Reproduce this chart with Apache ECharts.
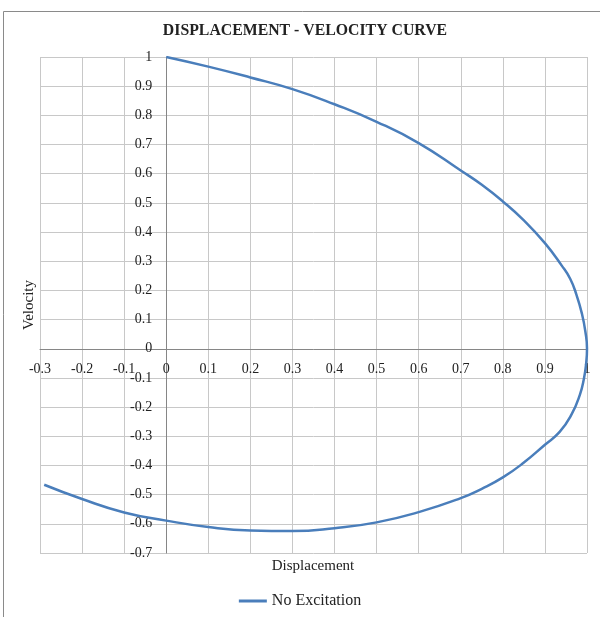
<!DOCTYPE html>
<html>
<head>
<meta charset="utf-8">
<script src="https://cdn.jsdelivr.net/npm/echarts@6/dist/echarts.min.js"></script>
<style>html,body{margin:0;padding:0;background:#fff;}#c{width:600px;height:617px;}</style>
</head>
<body>
<div id="c"></div>
<script>
const titleText = 'DISPLACEMENT - VELOCITY CURVE';
const xName = 'Displacement';
const yName = 'Velocity';
const seriesName = 'No Excitation';
const displacement = [0, 0.1, 0.2, 0.3, 0.4, 0.5, 0.6, 0.7, 0.75, 0.8, 0.85, 0.9, 0.94, 0.96, 0.975, 0.988, 0.996, 1.0, 0.998, 0.993, 0.983, 0.963, 0.935, 0.9, 0.85, 0.8, 0.75, 0.7, 0.6, 0.5, 0.4, 0.3, 0.2, 0.1, 0, -0.1, -0.2, -0.29];
const velocity = [1, 0.967, 0.93, 0.89, 0.838, 0.778, 0.705, 0.611, 0.562, 0.505, 0.44, 0.362, 0.285, 0.24, 0.185, 0.12, 0.06, 0, -0.05, -0.1, -0.158, -0.226, -0.285, -0.329, -0.39, -0.441, -0.48, -0.512, -0.56, -0.595, -0.615, -0.625, -0.623, -0.611, -0.589, -0.561, -0.515, -0.466];

const xMin = -0.3, xMax = 1, yMin = -0.7, yMax = 1;
const gridL = 40, gridR = 13, gridT = 57, gridB = 64, W = 600, H = 617;
// place axes at the zero crossing (Excel style)
const yAxisOffset = -(0 - xMin) / (xMax - xMin) * (W - gridL - gridR);
const xAxisOffset = -(0 - yMin) / (yMax - yMin) * (H - gridT - gridB);

const font = '"Liberation Serif","Times New Roman",serif';
const chart = echarts.init(document.getElementById('c'), null, {renderer: 'canvas'});
const fmt = v => String(+(+v).toFixed(1));
chart.setOption({
  animation: false,
  backgroundColor: '#fff',
  textStyle: {fontFamily: font},
  grid: {left: gridL, right: gridR, top: gridT, bottom: gridB, containLabel: false},
  xAxis: {
    type: 'value', min: xMin, max: xMax, interval: 0.1,
    position: 'bottom', offset: xAxisOffset,
    axisLine: {onZero: false, lineStyle: {color: '#868686', width: 1}},
    axisTick: {show: false},
    axisLabel: {formatter: fmt, color: '#222', fontFamily: font, fontSize: 14, margin: 14},
    splitLine: {lineStyle: {color: '#c8c8c8', width: 1}}
  },
  yAxis: {
    type: 'value', min: yMin, max: yMax, interval: 0.1,
    position: 'left', offset: yAxisOffset,
    axisLine: {onZero: false, lineStyle: {color: '#868686', width: 1}},
    axisTick: {show: false},
    axisLabel: {formatter: fmt, color: '#222', fontFamily: font, fontSize: 14, margin: 14},
    splitLine: {lineStyle: {color: '#c8c8c8', width: 1}}
  },
  legend: {
    bottom: 3, left: 'center',
    itemWidth: 28, itemHeight: 3, itemGap: 10,
    icon: 'rect',
    textStyle: {fontFamily: font, fontSize: 16, color: '#222'},
    data: [seriesName]
  },
  series: [{
    name: seriesName,
    type: 'line',
    data: displacement.map((d, i) => [d, velocity[i]]),
    smooth: 0.5,
    showSymbol: false,
    symbol: 'none',
    lineStyle: {color: '#4a7ebb', width: 2.5},
    itemStyle: {color: '#4a7ebb'}
  }],
  graphic: [
    {type: 'rect', shape: {x: 3.5, y: 11.5, width: 700, height: 700}, style: {fill: 'none', stroke: '#8a8a8a', lineWidth: 1}, z: -1},
    {type: 'text', x: 305, y: 31, style: {text: titleText, font: 'bold 15.8px ' + font, fill: '#222', textAlign: 'center', textVerticalAlign: 'middle'}},
    {type: 'text', x: 313, y: 566, style: {text: xName, font: '15px ' + font, fill: '#222', textAlign: 'center', textVerticalAlign: 'middle'}},
    {type: 'text', x: 29, y: 305, rotation: Math.PI / 2, style: {text: yName, font: '15px ' + font, fill: '#222', textAlign: 'center', textVerticalAlign: 'middle'}}
  ]
});
</script>
</body>
</html>
